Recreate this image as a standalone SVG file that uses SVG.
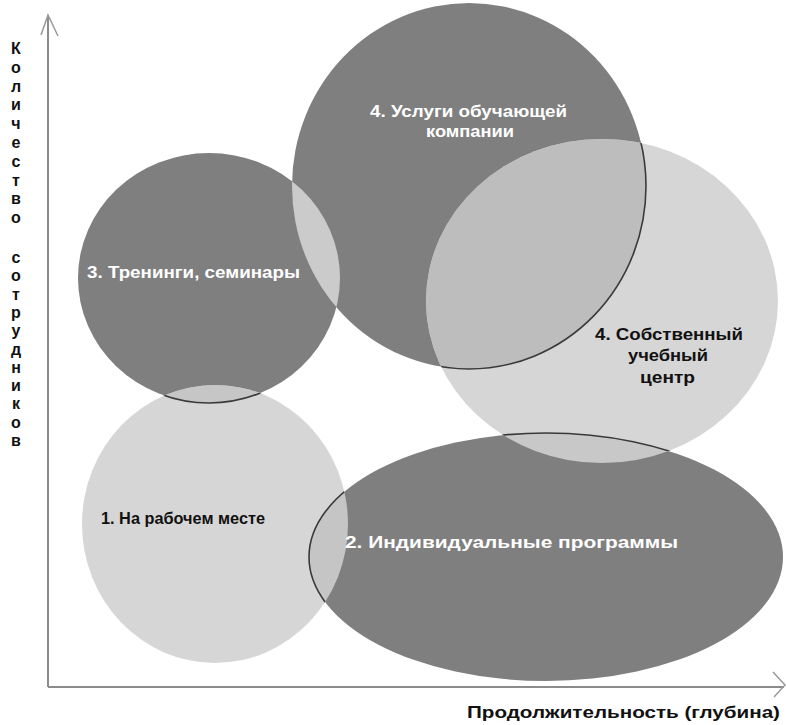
<svg xmlns="http://www.w3.org/2000/svg" width="786" height="725" viewBox="0 0 786 725">
<style>
.dark{fill:#7f7f7f}
.light{fill:#d6d6d6}
.lbl{font-family:"Liberation Sans",Arial,sans-serif;font-weight:bold;font-size:17px}
.w{fill:#ffffff}
.k{fill:#111111}
.outline{fill:none;stroke:#3a3a3a;stroke-width:1.6}
.axis{stroke:#8c8c8c;stroke-width:2;fill:none}
.head{stroke:#9a9a9a;stroke-width:1.5;fill:none}
.vl{font-family:"Liberation Sans",Arial,sans-serif;font-weight:bold;font-size:16px;fill:#111111}
</style>
<defs>
<ellipse id="sA" cx="209" cy="278" rx="131" ry="125"/>
<ellipse id="sB" cx="469" cy="186" rx="177" ry="183"/>
<ellipse id="sC" cx="602" cy="301" rx="176" ry="162"/>
<ellipse id="sD" cx="215" cy="524" rx="133" ry="139"/>
<ellipse id="sE" cx="546" cy="557" rx="237" ry="124"/>
<clipPath id="cA"><use href="#sA"/></clipPath>
<clipPath id="cC"><use href="#sC"/></clipPath>
<clipPath id="cD"><use href="#sD"/></clipPath>
</defs>
<rect width="786" height="725" fill="#ffffff"/>

<g id="node-trainings"><use href="#sA" class="dark"/></g>
<g id="node-company-services"><use href="#sB" class="dark"/></g>
<g id="node-workplace"><use href="#sD" class="light"/></g>
<g id="node-own-center"><use href="#sC" class="light"/></g>
<g id="node-individual"><use href="#sE" class="dark"/></g>

<g id="overlaps">
<use href="#sB" fill="#cbcbcb" clip-path="url(#cA)"/>
<use href="#sA" fill="#c6c6c6" clip-path="url(#cD)"/>
<use href="#sB" fill="#bdbdbd" clip-path="url(#cC)"/>
<use href="#sE" fill="#c5c5c5" clip-path="url(#cD)"/>
<use href="#sE" fill="#c8c8c8" clip-path="url(#cC)"/>
<use href="#sA" class="outline" clip-path="url(#cD)"/>
<use href="#sB" class="outline" clip-path="url(#cC)"/>
<use href="#sE" class="outline" clip-path="url(#cD)"/>
<use href="#sE" class="outline" clip-path="url(#cC)"/>
</g>

<g id="labels">
<text class="lbl w" x="370" y="117" textLength="197" lengthAdjust="spacingAndGlyphs">4. Услуги обучающей</text>
<text class="lbl w" x="426" y="137" textLength="88" lengthAdjust="spacingAndGlyphs">компании</text>
<text class="lbl w" x="87" y="278" textLength="213" lengthAdjust="spacingAndGlyphs">3. Тренинги, семинары</text>
<text class="lbl k" x="595" y="340" textLength="148" lengthAdjust="spacingAndGlyphs">4. Собственный</text>
<text class="lbl k" x="628" y="361" textLength="80" lengthAdjust="spacingAndGlyphs">учебный</text>
<text class="lbl k" x="640" y="383" textLength="55" lengthAdjust="spacingAndGlyphs">центр</text>
<text class="lbl k" x="101" y="524" textLength="164" lengthAdjust="spacingAndGlyphs">1. На рабочем месте</text>
<text class="lbl w" x="345" y="548" textLength="333" lengthAdjust="spacingAndGlyphs">2. Индивидуальные программы</text>
</g>

<g id="connectors">
<line class="axis" x1="48" y1="15" x2="48" y2="687"/>
<line class="axis" x1="48" y1="687" x2="784" y2="687"/>
<polyline class="head" points="41,35 48,15 58,36"/>
<polyline class="head" points="773,672 785,685 774,697"/>
</g>

<g id="axis-labels">
<text class="vl" text-anchor="middle">
<tspan x="16" y="54">К</tspan><tspan x="16" dy="18.8">о</tspan><tspan x="16" dy="18.8">л</tspan><tspan x="16" dy="18.8">и</tspan><tspan x="16" dy="18.8">ч</tspan><tspan x="16" dy="18.8">е</tspan><tspan x="16" dy="18.8">с</tspan><tspan x="16" dy="18.8">т</tspan><tspan x="16" dy="18.8">в</tspan><tspan x="16" dy="18.8">о</tspan>
</text>
<text class="vl" text-anchor="middle">
<tspan x="16" y="263">с</tspan><tspan x="16" dy="18.3">о</tspan><tspan x="16" dy="18.3">т</tspan><tspan x="16" dy="18.3">р</tspan><tspan x="16" dy="18.3">у</tspan><tspan x="16" dy="18.3">д</tspan><tspan x="16" dy="18.3">н</tspan><tspan x="16" dy="18.3">и</tspan><tspan x="16" dy="18.3">к</tspan><tspan x="16" dy="18.3">о</tspan><tspan x="16" dy="18.3">в</tspan>
</text>
<text class="lbl k" x="467" y="718" textLength="313" lengthAdjust="spacingAndGlyphs">Продолжительность (глубина)</text>
</g>
</svg>
